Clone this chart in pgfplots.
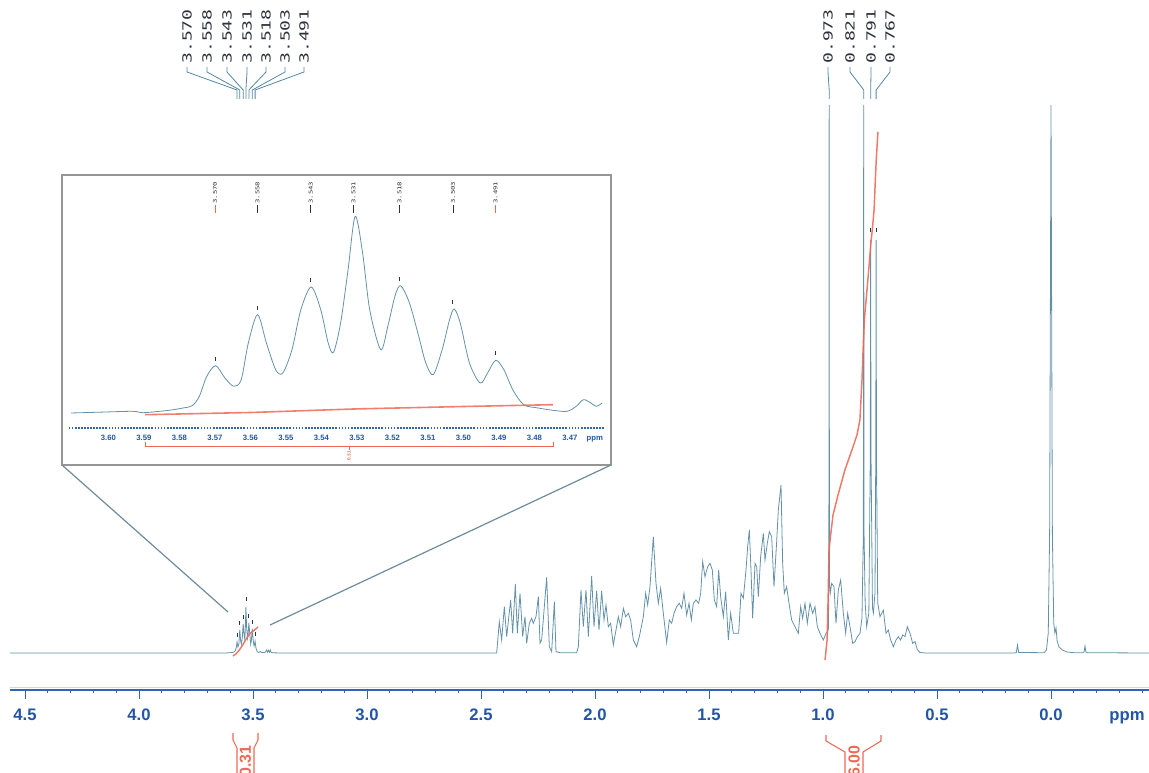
\documentclass[border=0pt]{standalone}
\usepackage{pgfplots}
\pgfplotsset{compat=1.18}
\usepackage{fontspec}
\setmainfont{Liberation Sans}
\newfontfamily\monof{DejaVu Sans Mono}
\definecolor{spec}{RGB}{100,145,170}
\definecolor{axblue}{RGB}{50,100,180}
\definecolor{lblblue}{RGB}{35,85,165}
\definecolor{intred}{RGB}{238,105,85}
\definecolor{framegray}{RGB}{150,150,150}
\definecolor{leader}{RGB}{85,135,160}
\definecolor{lbltext}{RGB}{45,50,60}
\definecolor{zoomline}{RGB}{110,140,155}
\begin{document}
\begin{tikzpicture}[x=0.75pt,y=0.75pt]
\useasboundingbox (0,0) rectangle (1149,772);
% ---------------- main spectrum ----------------
\begin{axis}[
  at={(0,82)}, xshift=7.5pt, anchor=south west, scale only axis,
  width=854.25pt, height=517.5pt,
  x dir=reverse, xmin=-0.4298, xmax=4.5658, ymin=-37, ymax=653,
  axis x line=bottom, axis y line=none,
  x axis line style={-, draw=axblue, line width=0.9pt},
  xtick={0,0.5,1,1.5,2,2.5,3,3.5,4,4.5},
  xticklabels={0.0,0.5,1.0,1.5,2.0,2.5,3.0,3.5,4.0,4.5},
  minor xtick={-0.4,-0.3,-0.2,-0.1,0.1,0.2,0.3,0.4,0.6,0.7,0.8,0.9,1.1,1.2,1.3,1.4,1.6,1.7,1.8,1.9,2.1,2.2,2.3,2.4,2.6,2.7,2.8,2.9,3.1,3.2,3.3,3.4,3.6,3.7,3.8,3.9,4.1,4.2,4.3,4.4},
  tick align=outside, major tick length=6.5pt, minor tick length=2.5pt,
  tick style={axblue, line width=0.7pt},
  xticklabel style={font=\bfseries\fontsize{12.5}{14}\selectfont, text=lblblue, anchor=base, yshift=-16pt},
  clip=false,
]
\addplot[spec, line width=0.6pt] coordinates {
(4.5658,0)(3.62,0)(3.60,0.3)(3.585,0.8)(3.577,2.5)(3.573,6)(3.570,11)(3.566,6)(3.562,9)(3.558,23)(3.554,12)(3.551,9)(3.547,15)(3.543,29)(3.539,18)(3.536,14)(3.534,22)(3.531,46)(3.528,26)(3.524,15)(3.521,20)(3.518,30)(3.514,19)(3.510,9)(3.507,13)(3.503,24)(3.499,12)(3.495,7)(3.493,9)(3.491,12)(3.487,5)(3.482,1.5)(3.475,0.5)(3.468,1.5)(3.462,0.5)(3.45,0.3)(3.445,1.2)(3.44,3)(3.436,0.8)(3.432,2.8)(3.428,0.8)(3.424,3)(3.42,0.6)(3.41,0.2)(3.38,0)
(2.45,0)(2.4313,0)(2.4196,31.3)(2.4094,13)(2.3977,46.3)(2.3874,16.3)(2.3699,53)(2.3611,19.7)(2.3494,69)(2.3406,19.7)(2.3289,59.7)(2.3172,16.3)(2.3070,36.3)(2.2997,9.7)(2.2880,29.7)(2.2778,34.7)(2.2705,29.7)(2.2588,36.3)(2.2485,56.3)(2.2412,9.7)(2.2339,13)(2.2120,75.7)(2.2003,6.3)(2.1900,1.3)(2.1783,51.3)(2.1711,1.3)(2.1535,0.3)(2.0804,0.3)(2.0731,6.3)(2.0614,63)(2.0512,26.3)(2.0395,63)(2.0292,16.3)(2.0146,77)(2.0044,26.3)(1.9927,62.3)(1.9825,23)(1.9708,62)(1.9605,33)(1.9518,48)(1.9415,26.3)(1.9313,29.7)(1.9196,8)(1.9079,23)(1.8977,36.3)(1.8874,26.3)(1.8757,44.7)(1.8655,36.3)(1.8538,39.7)(1.8436,33)(1.8319,13)(1.8173,6.3)(1.8056,16.3)(1.7880,36.3)(1.7778,59.7)(1.7690,48)(1.7588,66.3)(1.7442,116.3)(1.7325,69.7)(1.7222,49.7)(1.7120,64.7)(1.7003,39.7)(1.6857,10.3)(1.6740,33)(1.6637,29.7)(1.6535,39.7)(1.6418,46.3)(1.6301,49.7)(1.6199,44.7)(1.6096,59.7)(1.5980,38)(1.5877,49.7)(1.5775,33)(1.5687,49.7)(1.5570,53)(1.5453,49.7)(1.5365,59.7)(1.5278,91.3)(1.5175,76.3)(1.5058,86.3)(1.4956,89.7)(1.4854,83)(1.4766,53)(1.4664,46.3)(1.4576,83)(1.4488,56.3)(1.4371,36.3)(1.4269,61.3)(1.4152,13)(1.4050,39.7)(1.3933,19.7)(1.3816,19.7)(1.3699,19.7)(1.3596,59.7)(1.3494,54.7)(1.3377,83)(1.3304,106.3)(1.3231,123)(1.3158,83)(1.3085,34.7)(1.2982,89.7)(1.2909,86.3)(1.2836,56.3)(1.2734,96.3)(1.2617,119.7)(1.2544,93)(1.2442,109.7)(1.2354,121.3)(1.2251,116.3)(1.2149,66.3)(1.2032,111.3)(1.1959,143)(1.1842,168)(1.1769,89.7)(1.1696,59.7)(1.1594,66.3)(1.1491,49.7)(1.1374,33)(1.1228,26.3)(1.1082,19.7)(1.0980,46.3)(1.0892,34.7)(1.0789,49.7)(1.0687,29.7)(1.0570,49.7)(1.0453,39.7)(1.0351,46.3)(1.0249,26.3)(1.0132,19.7)(0.9985,13)(0.9868,19.7)(0.9766,23)(0.9745,60)(0.9737,250)(0.9730,548)(0.9723,250)(0.9713,70)(0.9680,60)(0.9619,69.7)(0.9518,66.3)(0.9430,29.7)(0.9327,63)(0.9225,73)(0.9108,39.7)(0.9006,19.7)(0.8918,39.7)(0.8816,26.3)(0.8699,9.7)(0.8596,11.3)(0.8494,16.3)(0.8377,19.7)(0.8290,35)(0.8230,120)(0.8215,548)(0.8200,120)(0.8150,50)(0.8085,26.3)(0.7990,40)(0.7925,200)(0.7910,413)(0.7895,200)(0.7830,45)(0.7790,40)(0.7720,60)(0.7685,200)(0.7670,413)(0.7655,200)(0.7600,50)(0.7500,36.3)(0.7354,43)(0.7237,19.7)(0.7135,23)(0.7032,13)(0.6915,6.3)(0.6798,13)(0.6696,16.3)(0.6594,13)(0.6506,18)(0.6404,16.3)(0.6301,26.3)(0.6184,19.7)(0.6067,9.7)(0.5965,11.3)(0.5863,3.3)(0.5746,0.5)(0.55,0)(0.16,0)(0.152,0.5)(0.147,8)(0.142,0.5)(0.03,0.3)(0.02,3)(0.012,20)(0.006,120)(0.002,400)(0.0,548)(-0.002,400)(-0.006,120)(-0.012,30)(-0.017,20)(-0.022,25)(-0.027,12)(-0.035,6)(-0.05,3)(-0.07,1)(-0.1,0.3)(-0.14,0.3)(-0.145,1)(-0.149,7)(-0.153,1)(-0.16,0.3)(-0.4298,0)
};
\addplot[intred, line width=1.1pt, opacity=0.9] coordinates {
(3.588,-3)(3.575,-1)(3.56,3)(3.545,8)(3.53,14)(3.515,19)(3.50,22)(3.488,24)(3.478,26)};
\addplot[intred, line width=1.1pt, opacity=0.9] coordinates {
(0.991,-7)(0.982,13)(0.977,60)(0.974,100)(0.969,113)(0.956,138)(0.934,158)(0.904,183)(0.873,203)(0.851,218)(0.838,233)(0.829,273)(0.823,310)(0.818,335)(0.807,363)(0.797,390)(0.790,410)(0.783,425)(0.776,443)(0.770,475)(0.766,495)(0.762,510)(0.759,521)};
\addplot[only marks, mark=|, mark size=1.6pt, mark options={lbltext, line width=0.6pt}] coordinates {
(3.570,18)(3.558,30)(3.543,36)(3.531,54)(3.518,37)(3.503,31)(3.491,19)(0.791,423)(0.767,423)};
\end{axis}
% ---------------- inset ----------------
\begin{axis}[
  at={(0,344)}, xshift=51pt, anchor=south west, scale only axis,
  width=402pt, height=186pt,
  x dir=reverse, xmin=3.4604, xmax=3.6114, ymin=-15, ymax=233,
  axis x line=bottom, axis y line=none,
  x axis line style={-, draw=axblue, densely dotted, line width=1.3pt},
  xtick={3.47,3.48,3.49,3.50,3.51,3.52,3.53,3.54,3.55,3.56,3.57,3.58,3.59,3.60},
  xticklabels={3.47,3.48,3.49,3.50,3.51,3.52,3.53,3.54,3.55,3.56,3.57,3.58,3.59,3.60},
  major tick length=0pt,
  xticklabel style={font=\bfseries\fontsize{5.8}{7}\selectfont, text=lblblue, anchor=base, yshift=-9pt},
  clip=false,
]
\addplot[spec, smooth, tension=0.5, line width=0.6pt] coordinates {
(3.6106,0)(3.6035,0.7)(3.5932,1.7)(3.5902,0.3)(3.5830,2.7)(3.5790,5)(3.5764,7.3)(3.5744,16.7)(3.5723,36.7)(3.5698,47.3)(3.5672,35)(3.5647,26.7)(3.5626,33.3)(3.5606,70)(3.5580,98.3)(3.5555,70)(3.5529,43.3)(3.5509,40)(3.5483,63.3)(3.5458,103.3)(3.5429,126)(3.5402,103.3)(3.5381,70)(3.5366,60.7)(3.5346,90)(3.5325,143.3)(3.5305,196.7)(3.5284,160)(3.5264,103.3)(3.5233,63.3)(3.5213,86.7)(3.5193,116.7)(3.5177,127.3)(3.5152,110)(3.5126,76.7)(3.5106,50)(3.5085,38.3)(3.5060,63.3)(3.5039,93.3)(3.5026,104)(3.5009,90)(3.4983,50)(3.4953,30)(3.4932,40)(3.4909,52.7)(3.4886,43.3)(3.4861,23.3)(3.4830,8.3)(3.4789,5)(3.4748,2.7)(3.4708,1.7)(3.4682,6.7)(3.4662,13.3)(3.4641,10)(3.4626,6.7)(3.4609,10)};
\addplot[intred, line width=1.2pt, opacity=0.85] coordinates {
(3.5897,-1.7)(3.56,0.5)(3.531,4)(3.50,6.5)(3.4748,8.3)};
\addplot[only marks, mark=|, mark size=1.2pt, mark options={lbltext, line width=0.5pt}] coordinates {
(3.570,54)(3.558,105)(3.543,133)(3.518,134)(3.503,111)(3.491,60)};
\end{axis}
% ---------------- annotations in pixel coordinates (y down) ----------------
\begin{scope}[shift={(0,772)}, yscale=-1]
\draw[intred!35, line width=0.5pt] (10,687) -- (1149,687);
\node[font=\bfseries\fontsize{12.5}{14}\selectfont, text=lblblue, anchor=base] at (1127,720) {ppm};
\draw[framegray, line width=1.1pt] (62,175) rectangle (611,465);
\draw[zoomline, line width=0.9pt] (62,465) -- (228,612);
\draw[zoomline, line width=0.9pt] (611,465) -- (270,625);
\node[font=\bfseries\fontsize{5.8}{7}\selectfont, text=lblblue, anchor=base west] at (582,440) {ppm};
\draw[intred, line width=0.6pt] (145,442) -- (145,446) -- (553,446) -- (553,442);
\draw[intred, line width=0.6pt] (349,446) -- (349,450);
\node[rotate=90, anchor=east, inner sep=0pt, text=intred, font=\bfseries\fontsize{3.5}{4}\selectfont] at (349,451) {0.31};
\foreach \px/\lab/\col in {215/3.570/intred,257.6/3.558/lbltext,310.8/3.543/lbltext,353.5/3.531/lbltext,399.6/3.518/lbltext,452.9/3.503/lbltext,495.5/3.491/intred}{
  \node[rotate=90, anchor=west, inner sep=0pt, text=lbltext, font=\monof\fontsize{3.9}{4.5}\selectfont] at (\px,204) {\scalebox{1.4}[1]{\lab}};
  \draw[\col, line width=0.5pt] (\px,205) -- (\px,213);
}
\foreach \lx/\px/\lab in {187/237.0/3.570,207/239.8/3.558,227/243.2/3.543,247/245.9/3.531,266/248.9/3.518,285/252.3/3.503,304/255.1/3.491,828/829.2/0.973,850/863.8/0.821,871/870.7/0.791,890/876.1/0.767}{
  \node[rotate=90, anchor=west, inner sep=0pt, text=lbltext, font=\monof\fontsize{9.4}{10}\selectfont] at (\lx,64) {\scalebox{1.44}[1]{\lab}};
  \draw[leader, line width=0.6pt] (\lx,67) -- (\lx,72) -- (\px,90) -- (\px,99);
}
\draw[intred, line width=0.8pt] (233,733) -- (233,740) -- (237,748) -- (237,776);
\draw[intred, line width=0.8pt] (258,733) -- (258,740) -- (254,748) -- (254,776);
\node[rotate=90, anchor=east, inner sep=0pt, text=intred, font=\bfseries\fontsize{12}{14}\selectfont] at (245.5,745) {0.31};
\draw[intred, line width=0.8pt] (826,735) -- (826,741) -- (845,752) -- (845,776);
\draw[intred, line width=0.8pt] (881,735) -- (881,741) -- (863,752) -- (863,776);
\node[rotate=90, anchor=east, inner sep=0pt, text=intred, font=\bfseries\fontsize{12}{14}\selectfont] at (854,745) {6.00};
\end{scope}
\end{tikzpicture}
\end{document}
